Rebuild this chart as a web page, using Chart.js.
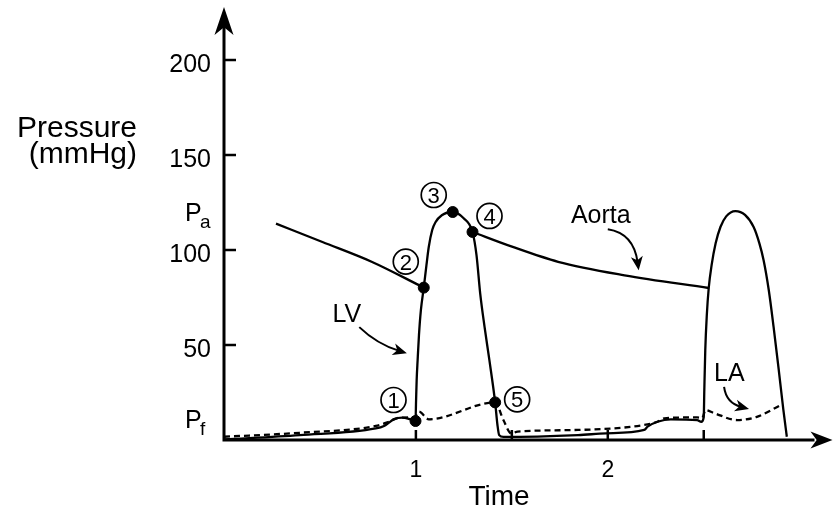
<!DOCTYPE html>
<html>
<head>
<meta charset="utf-8">
<title>Pressure vs time</title>
<script src="https://cdn.jsdelivr.net/npm/chart.js@4.4.1/dist/chart.umd.min.js"></script>
<style>
  html, body { margin: 0; padding: 0; background: #fff; }
  canvas { display: block; }
</style>
</head>
<body>
<canvas id="pressureChart" width="839" height="516"></canvas>
<script>
// === data (time in beats, pressure in mmHg) ===
const lvTime = [0, 0.394, 0.791, 0.834, 0.860, 0.886, 0.929, 0.969, 0.998,
    1.001, 1.004, 1.009, 1.016, 1.026, 1.041, 1.055, 1.067, 1.085, 1.102, 1.135, 1.192, 1.249, 1.295,
    1.316, 1.335, 1.358, 1.383, 1.413, 1.425, 1.434, 1.456, 1.845, 1.991, 2.190, 2.207, 2.259, 2.328, 2.466, 2.487,
    2.500, 2.503, 2.508, 2.516, 2.526, 2.541, 2.562, 2.587, 2.617, 2.665, 2.715, 2.760, 2.790, 2.812, 2.839, 2.864, 2.891, 2.915, 2.933];
const lvPressure = [0.3, 2.6, 6.1, 7.4, 9.2, 11.0, 11.8, 11.0, 10.0,
    21.0, 31.5, 42.0, 55.2, 68.3, 80.2, 92.0, 101.6, 110.5, 114.6, 118.3, 120.0, 116.7, 109.5,
    97.2, 77.2, 59.4, 42.0, 19.8, 7.9, 2.6, 1.6, 2.6, 3.5, 5.3, 7.0, 9.6, 10.9, 10.5, 9.6,
    12.0, 26.3, 47.3, 65.7, 80.0, 92.0, 103.5, 112.1, 117.7, 120.5, 118.5, 112.1, 103.5, 94.6, 78.8, 59.5, 36.8, 15.8, 1.7];

const aortaTime = [0.271, 0.513, 0.772, 1.041, 1.2, 1.295, 1.497, 1.741, 2.087, 2.526];
const aortaPressure = [113.9, 104.2, 93.7, 80.2, null, 109.5, 101.9, 93.8, 86.7, 80.0];

const laTime = [0, 0.394, 0.791, 0.860, 0.912, 0.995, 1.016, 1.067, 1.413, 1.456, 1.497, 1.530, 1.845, 2.190, 2.259, 2.294, 2.466, 2.492, 2.509, 2.553, 2.674, 2.777, 2.902];
const laPressure = [1.7, 3.8, 7.4, 9.6, 11.7, 12.2, 14.9, 10.9, 19.8, 10.5, 3.5, 4.4, 5.3, 7.9, 9.6, 11.4, 11.9, 11.6, 15.8, 14.2, 10.5, 12.2, 18.4];

// numbered events on the first beat
const keyTime = [0.998, 1.041, 1.192, 1.295, 1.413];
const keyPressure = [10.0, 80.2, 120.0, 109.5, 19.8];
const keyLabels = ["1", "2", "3", "4", "5"];

// axis ticks
const timeTicks = [1, 1.5, 2, 2.5];
const timeTickLabels = ["1", "", "2", ""];
const pressureTicks = [50, 100, 150, 200];
const pressureTickLabels = ["50", "100", "150", "200"];
const levelValues = [120, 11];
const levelSubs = ["a", "f"];

const ink = "#000";
const font = "'Liberation Sans', Arial, Helvetica, sans-serif";

function toPoints(xs, ys) {
    return xs.map((t, i) => ({ x: t, y: ys[i] }));
}

// arrow-pointed labels (data coordinates)
const notes = [
    { text: "LV", at: [0.565, 62.0], from: [0.705, 59.4], ctrl: [0.798, 50.4], to: [0.953, 45.7] },
    { text: "Aorta", at: [1.808, 114.0], from: [2.0, 110.9], ctrl: [2.135, 108.8], to: [2.161, 89.3] },
    { text: "LA", at: [2.554, 31.0], from: [2.606, 27.9], ctrl: [2.617, 19.4], to: [2.736, 16.3] }
];
// label offsets (px) for the circled numbers
const circleOffsets = [[-22, -21], [-18, -26], [-19, -17], [17, -16], [22, -3]];

function arrowHead(ctx, x, y, ang, len, half) {
    ctx.save();
    ctx.translate(x, y);
    ctx.rotate(ang);
    ctx.beginPath();
    ctx.moveTo(0, 0);
    ctx.lineTo(-len, -half);
    ctx.lineTo(-len * 0.72, 0);
    ctx.lineTo(-len, half);
    ctx.closePath();
    ctx.fill();
    ctx.restore();
}

const figurePlugin = {
    id: "figure",
    afterDatasetsDraw(chart) {
        const { ctx, chartArea: a, scales: { x, y } } = chart;
        const x0 = x.getPixelForValue(0);
        const y0 = y.getPixelForValue(0);
        ctx.save();
        ctx.strokeStyle = ink;
        ctx.fillStyle = ink;

        // axes with arrows
        ctx.lineWidth = 3;
        ctx.beginPath();
        ctx.moveTo(x0, y0 + 1.5);
        ctx.lineTo(x0, a.top + 20);
        ctx.moveTo(x0 - 1.5, y0);
        ctx.lineTo(a.right - 18, y0);
        ctx.stroke();
        arrowHead(ctx, x0, a.top, -Math.PI / 2, 28, 9.5);
        arrowHead(ctx, a.right, y0, 0, 22, 8.5);

        // y ticks
        ctx.lineWidth = 2.5;
        ctx.font = "25px " + font;
        ctx.textAlign = "right";
        ctx.textBaseline = "alphabetic";
        pressureTicks.forEach((v, i) => {
            const py = y.getPixelForValue(v);
            ctx.beginPath();
            ctx.moveTo(x0, py);
            ctx.lineTo(x0 + 12, py);
            ctx.stroke();
            ctx.fillText(pressureTickLabels[i], x0 - 13, py + 12);
        });

        // P_a and P_f
        levelValues.forEach((v, i) => {
            const py = y.getPixelForValue(v) + 9;
            ctx.font = "25px " + font;
            ctx.textAlign = "left";
            ctx.fillText("P", 185, py);
            ctx.font = "19px " + font;
            ctx.fillText(levelSubs[i], 200, py + 7);
        });

        // x ticks
        ctx.font = "23px " + font;
        ctx.textAlign = "center";
        timeTicks.forEach((v, i) => {
            const px = x.getPixelForValue(v);
            ctx.beginPath();
            ctx.moveTo(px, y0);
            ctx.lineTo(px, y0 - 10);
            ctx.stroke();
            if (timeTickLabels[i]) ctx.fillText(timeTickLabels[i], px, y0 + 37);
        });

        // axis titles
        ctx.font = "28px " + font;
        ctx.fillText("Time", 499, 505);
        ctx.font = "30px " + font;
        ctx.textAlign = "right";
        ctx.fillText("Pressure", 137, 137);
        ctx.fillText("(mmHg)", 137, 163);

        // circled event numbers
        ctx.lineWidth = 1.7;
        ctx.font = "22px " + font;
        ctx.textAlign = "center";
        keyTime.forEach((t, i) => {
            const cx = x.getPixelForValue(t) + circleOffsets[i][0];
            const cy = y.getPixelForValue(keyPressure[i]) + circleOffsets[i][1];
            ctx.beginPath();
            ctx.arc(cx, cy, 12.5, 0, Math.PI * 2);
            ctx.stroke();
            ctx.fillText(keyLabels[i], cx, cy + 8);
        });

        // curve names with bent arrows
        ctx.lineWidth = 2;
        notes.forEach(n => {
            ctx.font = "25px " + font;
            ctx.textAlign = "left";
            ctx.fillText(n.text, x.getPixelForValue(n.at[0]), y.getPixelForValue(n.at[1]));
            const fx = x.getPixelForValue(n.from[0]), fy = y.getPixelForValue(n.from[1]);
            const cx = x.getPixelForValue(n.ctrl[0]), cy = y.getPixelForValue(n.ctrl[1]);
            const tx = x.getPixelForValue(n.to[0]), ty = y.getPixelForValue(n.to[1]);
            const ang = Math.atan2(ty - cy, tx - cx);
            ctx.beginPath();
            ctx.moveTo(fx, fy);
            ctx.quadraticCurveTo(cx, cy, tx - 8 * Math.cos(ang), ty - 8 * Math.sin(ang));
            ctx.stroke();
            arrowHead(ctx, tx, ty, ang, 14, 6);
        });
        ctx.restore();
    }
};

const lineStyle = {
    showLine: true,
    borderColor: ink,
    borderWidth: 2.3,
    pointRadius: 0,
    cubicInterpolationMode: "monotone",
    clip: false
};

new Chart(document.getElementById("pressureChart"), {
    type: "scatter",
    data: {
        datasets: [
            { ...lineStyle, label: "LV", data: toPoints(lvTime, lvPressure) },
            { ...lineStyle, label: "Aorta", data: toPoints(aortaTime, aortaPressure) },
            { ...lineStyle, label: "LA", data: toPoints(laTime, laPressure), borderDash: [6, 4] },
            {
                label: "events",
                data: toPoints(keyTime, keyPressure),
                showLine: false,
                pointRadius: 5.5,
                pointBackgroundColor: ink,
                pointBorderColor: ink,
                clip: false
            }
        ]
    },
    options: {
        responsive: false,
        devicePixelRatio: 1,
        animation: false,
        layout: { padding: { left: 224, right: 3, top: 7, bottom: 76 } },
        scales: {
            x: { type: "linear", min: 0, max: 3.171, display: false },
            y: { type: "linear", min: 0, max: 227.9, display: false }
        },
        plugins: { legend: { display: false }, tooltip: { enabled: false } }
    },
    plugins: [figurePlugin]
});
</script>
</body>
</html>
